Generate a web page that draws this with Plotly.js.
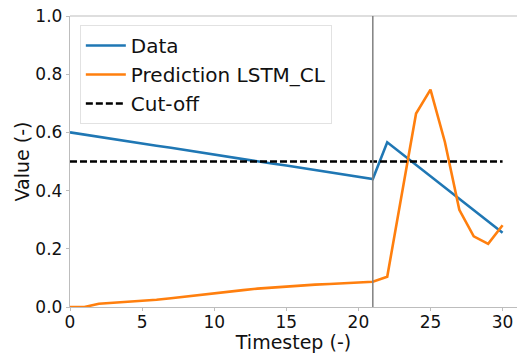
<!DOCTYPE html>
<html>
<head>
<meta charset="utf-8">
<script src="https://cdn.plot.ly/plotly-3.0.1.min.js"></script>
<style>
  html, body { margin: 0; padding: 0; background: #fff; }
  #chart { width: 517px; height: 353px; }
</style>
</head>
<body>
<div id="chart"></div>
<script>
// Time axis
const timesteps = [0, 1, 2, 3, 4, 5, 6, 7, 8, 9, 10, 11, 12, 13, 14, 15,
                   16, 17, 18, 19, 20, 21, 22, 23, 24, 25, 26, 27, 28, 29, 30];

// Observed values
const dataValues = [0.600, 0.592, 0.585, 0.577, 0.570, 0.562, 0.554, 0.547,
                    0.539, 0.531, 0.524, 0.516, 0.509, 0.501, 0.493, 0.486,
                    0.478, 0.470, 0.463, 0.455, 0.448, 0.440, 0.566, 0.527,
                    0.488, 0.449, 0.410, 0.371, 0.333, 0.294, 0.255];

// LSTM_CL model output
const predictionValues = [0.000, 0.000, 0.011, 0.014, 0.018, 0.021, 0.025, 0.030,
                          0.036, 0.042, 0.048, 0.053, 0.058, 0.063, 0.067, 0.071,
                          0.074, 0.077, 0.079, 0.081, 0.083, 0.087, 0.104, 0.385,
                          0.665, 0.747, 0.567, 0.334, 0.243, 0.217, 0.281];

// Threshold and the step where the prediction starts
const cutoffX = [0, 30];
const cutoffY = [0.5, 0.5];
const splitStep = 21;

const FONT = 'DejaVu Sans, sans-serif';

const traces = [
  { x: timesteps, y: dataValues, name: 'Data', mode: 'lines',
    line: { color: '#1f77b4', width: 2.6 } },
  { x: timesteps, y: predictionValues, name: 'Prediction LSTM_CL', mode: 'lines',
    line: { color: '#ff7f0e', width: 2.6 } },
  { x: cutoffX, y: cutoffY, name: 'Cut-off', mode: 'lines',
    line: { color: '#000000', width: 2.6, dash: '7px,3px' } }
];

const axisCommon = {
  showgrid: false, zeroline: false,
  showline: true, linecolor: '#bdbdbd', linewidth: 1.2,
  ticks: 'outside', ticklen: 3, tickwidth: 1, tickcolor: '#bdbdbd',
  tickfont: { family: FONT, size: 17, color: '#111' }
};

const layout = {
  width: 517, height: 353,
  margin: { l: 70, r: 0, t: 16, b: 46 },
  paper_bgcolor: '#fff', plot_bgcolor: '#fff',
  showlegend: true,
  legend: {
    x: 0.022, y: 0.969, xanchor: 'left', yanchor: 'top',
    bgcolor: 'rgba(255,255,255,0.85)', bordercolor: '#e2e2e2', borderwidth: 1,
    font: { family: FONT, size: 20, color: '#111' },
    itemwidth: 40
  },
  xaxis: Object.assign({}, axisCommon, {
    range: [0, 31], tickvals: [0, 5, 10, 15, 20, 25, 30], mirror: false,
    ticklabelstandoff: -4,
    title: { text: 'Timestep (-)', font: { family: FONT, size: 19, color: '#111' }, standoff: 3 }
  }),
  yaxis: Object.assign({}, axisCommon, {
    range: [0, 1], tickvals: [0, 0.2, 0.4, 0.6, 0.8, 1.0], tickformat: '.1f',
    title: { text: 'Value (-)', font: { family: FONT, size: 19, color: '#111' }, standoff: 0 }
  }),
  shapes: [
    { type: 'line', xref: 'paper', yref: 'paper', x0: 0, x1: 1, y0: 1, y1: 1,
      line: { color: '#bdbdbd', width: 1.2 } },
    { type: 'line', xref: 'x', yref: 'paper', x0: splitStep, x1: splitStep, y0: 0, y1: 1,
      line: { color: '#808080', width: 1.5 } }
  ]
};

Plotly.newPlot('chart', traces, layout, { displayModeBar: false, staticPlot: true });
</script>
</body>
</html>
